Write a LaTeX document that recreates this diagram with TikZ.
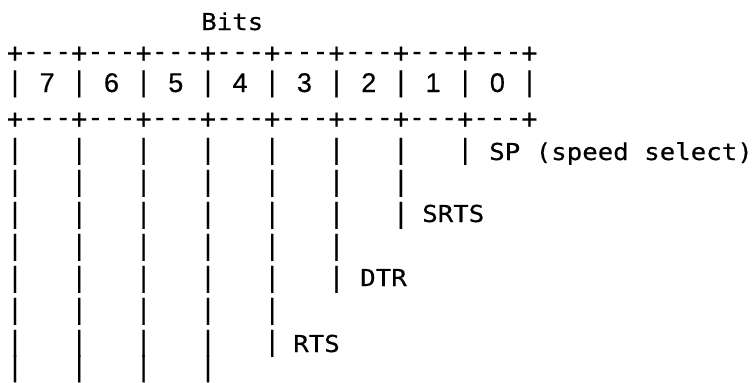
\documentclass[tikz,border=0pt]{standalone}
\usepackage{fontspec}
\newfontfamily\lpfont[FakeStretch=1.105,FakeBold=0.4]{DejaVu Sans Mono}
\newfontfamily\glfont[FakeStretch=0.98,FakeBold=0.4]{DejaVu Sans Mono}
\newfontfamily\dgfont[FakeBold=0.4]{Liberation Sans}
\begin{document}
\begin{tikzpicture}[x=1pt,y=-1pt,
  glyph/.style={inner sep=0pt, outer sep=0pt, anchor=base, font=\glfont\fontsize{27}{32}\selectfont},
  lbl/.style={inner sep=0pt, outer sep=0pt, anchor=base west, font=\lpfont\fontsize{23.3}{28}\selectfont},
  digit/.style={inner sep=0pt, outer sep=0pt, anchor=base, font=\dgfont\fontsize{27}{32}\selectfont}]
\useasboundingbox (0,0) rectangle (756,383);
% title
\node[lbl] (bits) at (201.25,30) {Bits};
% top and bottom borders of the register: +---+---+ ...
\foreach \yy/\nm in {62/top,128/bot} {
  \foreach \b in {0,...,8}
    \node[glyph] (\nm p\b) at ({15+64.32*\b},\yy) {+};
  \foreach \b in {0,...,7}
    \foreach \d in {1,2,3}
      \node[glyph] (\nm m\b\d) at ({15+64.32*\b+16.08*\d},{\yy-1.5}) {-};
}
% bit cells
\foreach \b in {0,...,8}
  \node[glyph] (cell\b) at ({15+64.32*\b},91) {|};
\foreach \b in {0,...,7} {
  \pgfmathtruncatemacro\dd{7-\b}
  \node[digit] (d\dd) at ({15+16.08*(4*\b+2)},92) {\dd};
}
% leader lines below the register
\foreach \yy/\mb in {158.5/7,190.5/6,222.5/6,254.5/5,286.5/5,318.5/4,350.5/4,376/3} {
  \foreach \b in {0,...,\mb}
    \node[glyph] (v\b-\yy) at ({15+64.32*\b},\yy) {|};
}
% labels
\node[lbl] (sp)   at (489.25,160) {SP~(speed~select)};
\node[lbl] (srts) at (422.25,222) {SRTS};
\node[lbl] (dtr)  at (360.25,286) {DTR};
\node[lbl] (rts)  at (293.25,352) {RTS};
\end{tikzpicture}
\end{document}
